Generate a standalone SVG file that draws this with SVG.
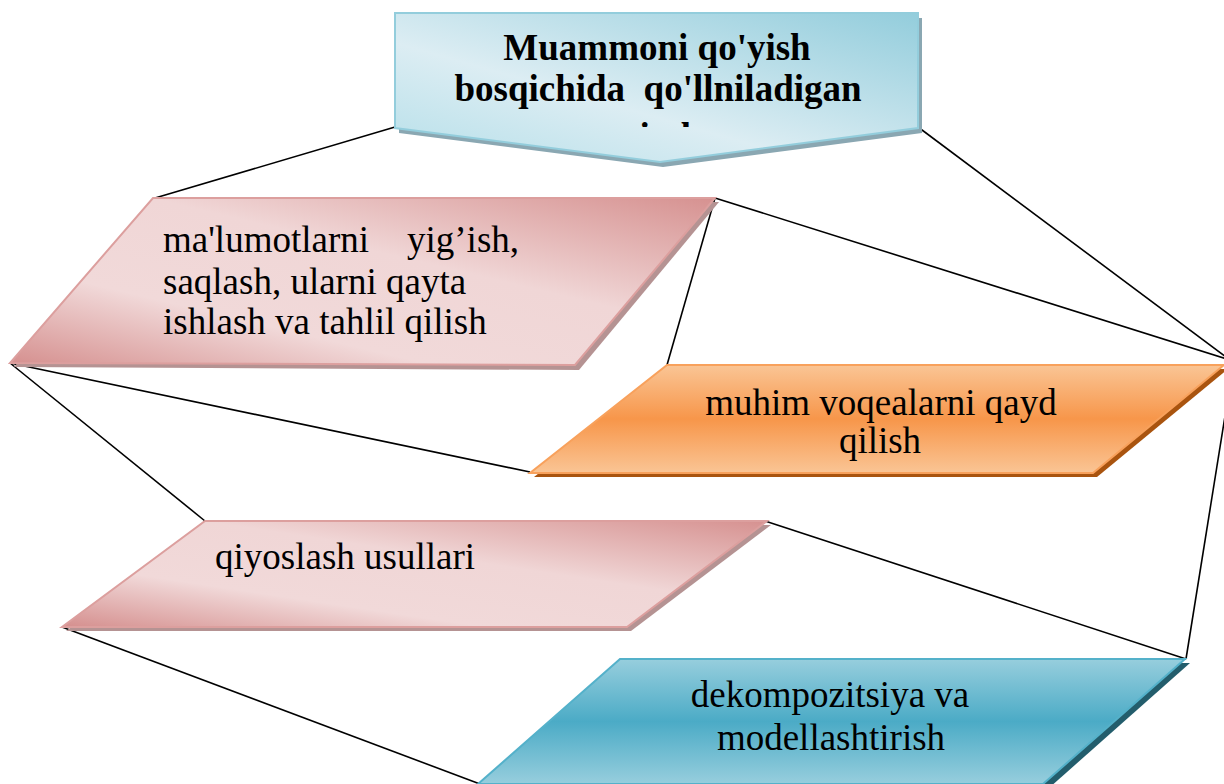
<svg xmlns="http://www.w3.org/2000/svg" width="1224" height="784" viewBox="0 0 1224 784">
<style>
.t{font-family:"Liberation Serif","Times New Roman",serif;font-size:37px;fill:#000}
.tb{font-family:"Liberation Serif","Times New Roman",serif;font-size:37px;font-weight:bold;fill:#000}
.c{stroke:#000;stroke-width:1.6;fill:none}
</style>
<defs>
<linearGradient id="gPink" x1="0" y1="1" x2="1" y2="0">
<stop offset="0" stop-color="#d58f8e"/>
<stop offset="0.3" stop-color="#f1d9d9"/>
<stop offset="0.6" stop-color="#f0d6d6"/>
<stop offset="1" stop-color="#d69190"/>
</linearGradient>
<linearGradient id="gOrange" x1="0" y1="0" x2="0" y2="1">
<stop offset="0" stop-color="#fac595"/>
<stop offset="0.5" stop-color="#f7964a"/>
<stop offset="1" stop-color="#fac595"/>
</linearGradient>
<linearGradient id="gBlue" x1="0" y1="0" x2="0" y2="1">
<stop offset="0" stop-color="#97cedd"/>
<stop offset="0.5" stop-color="#4babc6"/>
<stop offset="1" stop-color="#97cedd"/>
</linearGradient>
<linearGradient id="gTop" x1="0" y1="1" x2="1" y2="0">
<stop offset="0" stop-color="#b5dfe9"/>
<stop offset="0.4" stop-color="#dcedf3"/>
<stop offset="1" stop-color="#93cddc"/>
</linearGradient>
<clipPath id="clipTop"><rect x="395" y="13" width="524" height="114"/></clipPath>
</defs>

<g id="connectors">
<line class="c" x1="155" y1="198" x2="395" y2="127"/>
<line class="c" x1="918" y1="127" x2="1230" y2="360"/>
<line class="c" x1="715" y1="198" x2="1230" y2="360"/>
<line class="c" x1="715" y1="198" x2="667" y2="365"/>
<line class="c" x1="10" y1="363" x2="530" y2="472"/>
<line class="c" x1="10" y1="363" x2="205" y2="521"/>
<line class="c" x1="765" y1="521" x2="1186" y2="659"/>
<line class="c" x1="1234" y1="360" x2="1186" y2="659"/>
<line class="c" x1="62" y1="627" x2="480" y2="784"/>
</g>

<g id="node-top">
<polygon points="399,18 922,18 922,133 663,167 399,133" fill="#8aa7b2"/>
<polygon points="395,13 918,13 918,128 660,162 395,128" fill="url(#gTop)" stroke="#93cddc" stroke-width="2"/>
<g clip-path="url(#clipTop)">
<text class="tb" x="657" y="60" text-anchor="middle">Muammoni qo'yish</text>
<text class="tb" x="658" y="101" text-anchor="middle" xml:space="preserve">bosqichida  qo'llniladigan</text>
<text class="tb" x="657" y="149" text-anchor="middle">vositalar</text>
</g>
</g>

<g id="node-malumot">
<polygon points="157,202 719,202 579,370 14,367" fill="#b59393"/>
<polygon points="153,198 715,198 575,365 10,363" fill="url(#gPink)" stroke="#dc9f9e" stroke-width="2"/>
<text class="t" x="163" y="252">ma'lumotlarni<tspan x="407">yig’ish,</tspan></text>
<text class="t" x="163" y="294">saqlash, ularni qayta</text>
<text class="t" x="163" y="334">ishlash va tahlil qilish</text>
</g>

<g id="node-muhim">
<polygon points="671,369 1228,369 1097,477 534,477" fill="#a9540f"/>
<polygon points="667,365 1224,365 1093,473 530,473" fill="url(#gOrange)" stroke="#f8a15c" stroke-width="2"/>
<text class="t" x="881" y="415" text-anchor="middle">muhim voqealarni qayd</text>
<text class="t" x="880" y="453" text-anchor="middle">qilish</text>
</g>

<g id="node-qiyos">
<polygon points="209,525 771,525 631,631 66,631" fill="#b59393"/>
<polygon points="205,521 767,521 627,627 62,627" fill="url(#gPink)" stroke="#dc9f9e" stroke-width="2"/>
<text class="t" x="215" y="569">qiyoslash usullari</text>
</g>

<g id="node-dekomp">
<polygon points="624,663 1190,663 1049,788 482,788" fill="#235d6c"/>
<polygon points="620,659 1185,659 1043,784 478,784" fill="url(#gBlue)" stroke="#54b1ca" stroke-width="2"/>
<text class="t" x="830" y="707" text-anchor="middle">dekompozitsiya va</text>
<text class="t" x="831" y="750" text-anchor="middle">modellashtirish</text>
</g>
</svg>
